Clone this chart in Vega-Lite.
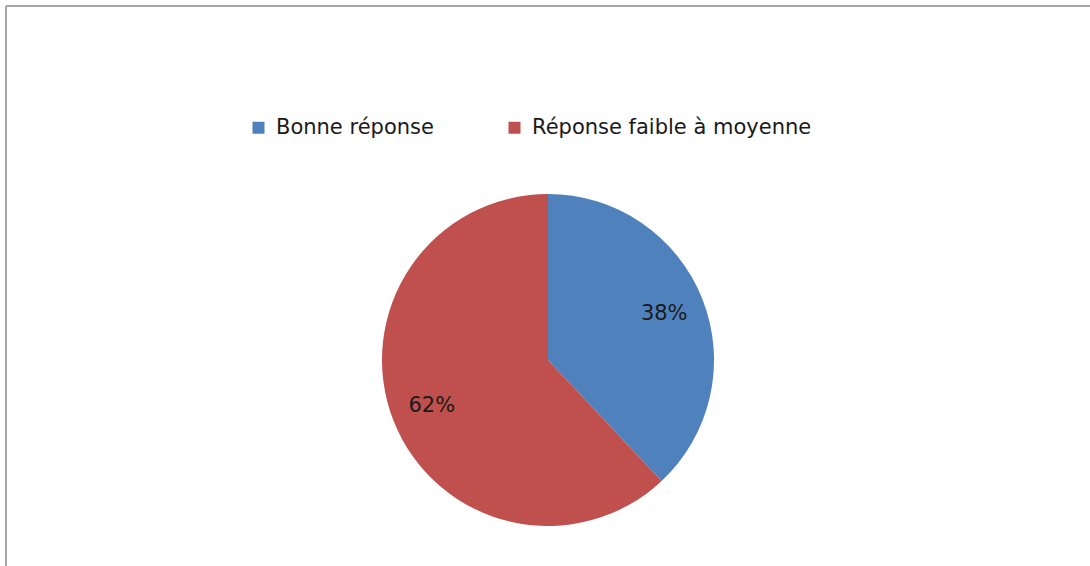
{
  "$schema": "https://vega.github.io/schema/vega-lite/v6.json",
  "width": 1084,
  "height": 560,
  "padding": {"left": 6, "top": 6, "right": 0, "bottom": 0},
  "autosize": {"type": "none"},
  "background": "#ffffff",
  "view": {"stroke": "#a6a6a6", "strokeWidth": 2, "strokeDash": [1084, 1644, 560, 0]},
  "config": {
    "font": "DejaVu Sans"
  },
  "data": {
    "values": [
      {"categorie": "Bonne réponse", "part": 0.38, "ordre": 1},
      {"categorie": "Réponse faible à moyenne", "part": 0.62, "ordre": 2}
    ]
  },
  "encoding": {
    "theta": {"field": "part", "type": "quantitative", "stack": true},
    "order": {"field": "ordre", "type": "quantitative"},
    "color": {
      "field": "categorie",
      "type": "nominal",
      "sort": ["Bonne réponse", "Réponse faible à moyenne"],
      "scale": {"domain": ["Bonne réponse", "Réponse faible à moyenne"], "range": ["#4f81bd", "#c0504d"]},
      "legend": {
        "title": null,
        "orient": "none",
        "direction": "horizontal",
        "legendX": 242,
        "legendY": 111,
        "symbolType": "square",
        "symbolSize": 144,
        "symbolStrokeWidth": 0,
        "labelFontSize": 21,
        "labelColor": "#1a1a1a",
        "labelFont": "DejaVu Sans",
        "labelLimit": 0,
        "columnPadding": 70,
        "labelOffset": 7
      }
    }
  },
  "layer": [
    {"mark": {"type": "arc", "outerRadius": 166, "stroke": null, "yOffset": 74}},
    {
      "mark": {"type": "text", "radius": 125, "fontSize": 21, "font": "DejaVu Sans", "yOffset": 74},
      "encoding": {
        "text": {"field": "part", "type": "quantitative", "format": ".0%"},
        "color": {"value": "#1a1a1a"}
      }
    }
  ]
}
